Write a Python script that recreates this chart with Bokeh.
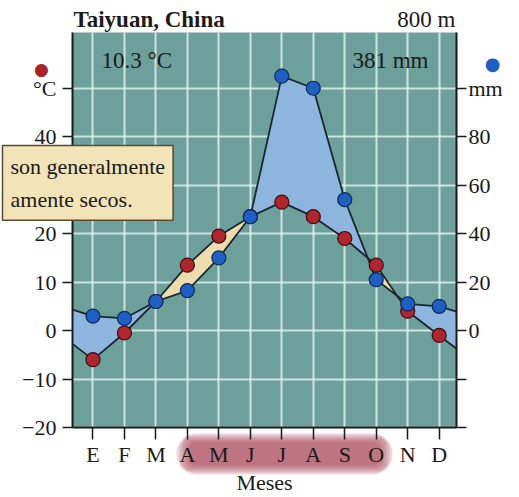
import numpy as np
from bokeh.plotting import figure
from bokeh.models import Range1d, LinearAxis, Label, FixedTicker, Grid, BoxAnnotation
from bokeh.embed import file_html
from bokeh.resources import INLINE

# ---------------- data ----------------
months = ["E", "F", "M", "A", "M", "J", "J", "A", "S", "O", "N", "D"]
temp_c = [-6.0, -0.5, 6.0, 13.5, 19.5, 23.5, 26.5, 23.5, 19.0, 13.5, 4.0, -1.0]
precip_mm = [6, 5, 12, 16.5, 30, 47, 105, 100, 54, 21, 11, 10]

temp_ticks = [-20, -10, 0, 10, 20, 30, 40, 50]
temp_tick_labels = ["\u221220", "\u221210", "0", "10", "20", "30", "40", "\u00b0C"]
precip_ticks = [-40, -20, 0, 20, 40, 60, 80, 100]
precip_tick_labels = ["", "", "0", "20", "40", "60", "80", "mm"]

title_text = "Taiyuan, China"
altitude_text = "800 m"
mean_temp_text = "10.3 \u00b0C"
annual_precip_text = "381 mm"
x_label = "Meses"
note_text = "son generalmente\namente secos."

# ---------------- geometry (plot area inside the canvas) ----------------
W, H = 519, 497
X_MIN, X_MAX = -0.65, 11.55          # month axis extent of the diagram
T_MIN, T_MAX = -20.0, 61.5           # temperature axis extent
PX_L, PX_R, PX_T, PX_B = 72, 456, 32, 427
dx = (X_MAX - X_MIN) / (PX_R - PX_L)
dy = (T_MAX - T_MIN) / (PX_B - PX_T)
def X(px): return X_MIN + (px - PX_L) * dx
def Y(py): return T_MIN + (PX_B - py) * dy

SERIF = "Liberation Serif"
INK = "#1a1a1a"
TEAL = "#6d9f9b"

p = figure(width=W, height=H,
           x_range=Range1d(X(0), X(W)), y_range=Range1d(Y(H), Y(0)),
           output_backend="svg", toolbar_location=None,
           min_border=0, min_border_left=0, min_border_right=0,
           min_border_top=0, min_border_bottom=0,
           background_fill_color="white", border_fill_color="white",
           outline_line_color=None)
p.extra_y_ranges = {"mm": Range1d(2 * Y(H), 2 * Y(0))}   # 20 mm = 10 °C

# diagram background
p.quad(left=[X_MIN], right=[X_MAX], bottom=[T_MIN], top=[T_MAX],
       fill_color=TEAL, line_color=None, level="image")

x = np.arange(len(months))
# wrap-around (Dec before Jan, Jan after Dec), cut at the diagram edges
xe = np.concatenate([[x[0] - 1], x, [x[-1] + 1]])
te = np.array([temp_c[-1]] + temp_c + [temp_c[0]], dtype=float)
pe = np.array([precip_mm[-1]] + precip_mm + [precip_mm[0]], dtype=float)
xl = np.concatenate([[X_MIN], x, [X_MAX]])
tl = np.interp(xl, xe, te)
pl = np.interp(xl, xe, pe)

xs = np.linspace(X_MIN, X_MAX, 2441)
t_i = np.interp(xs, xe, te)
p_i = np.interp(xs, xe, pe) / 2.0

p.varea(x=xs, y1=t_i, y2=np.maximum(t_i, p_i), fill_color="#8db5de", fill_alpha=1.0)
p.varea(x=xs, y1=p_i, y2=np.maximum(p_i, t_i), fill_color="#ecdcae", fill_alpha=1.0)

p.line(xl, tl, line_color="#1c2430", line_width=1.8)
p.line(xl, pl, line_color="#1c2430", line_width=1.8, y_range_name="mm")

p.scatter(x, temp_c, size=14, fill_color="#b0262e", line_color="#3c0c10", line_width=1.2)
p.scatter(x, precip_mm, size=14, fill_color="#1f5fc4", line_color="#0c2a5c", line_width=1.2,
          y_range_name="mm")

# ---------------- axes ----------------
def style_axis(ax, tick_out=10, standoff=4, size="22px"):
    ax.axis_line_width = 2
    ax.axis_line_color = INK
    ax.major_tick_line_color = INK
    ax.major_tick_line_width = 1.5
    ax.major_tick_out = tick_out
    ax.major_tick_in = 0
    ax.minor_tick_line_color = None
    ax.major_label_text_font = SERIF
    ax.major_label_text_font_size = size
    ax.major_label_text_color = INK
    ax.major_label_standoff = standoff

month_ticker = FixedTicker(ticks=[int(i) for i in x])
temp_ticker = FixedTicker(ticks=temp_ticks)

left = p.left[0]
left.ticker = temp_ticker
left.major_label_overrides = dict(zip(temp_ticks, temp_tick_labels))
left.fixed_location = X_MIN
left.bounds = (T_MIN, T_MAX)
style_axis(left, 10, 6)

bottom = p.below[0]
bottom.ticker = month_ticker
bottom.major_label_overrides = {int(i): m for i, m in zip(x, months)}
bottom.fixed_location = T_MIN
bottom.bounds = (X_MIN, X_MAX)
style_axis(bottom, 12, 2)
bottom.axis_label = x_label
bottom.axis_label_text_font = SERIF
bottom.axis_label_text_font_size = "22px"
bottom.axis_label_text_font_style = "normal"
bottom.axis_label_text_color = INK
bottom.axis_label_standoff = 0
bottom.level = "overlay"

right = LinearAxis(y_range_name="mm", ticker=FixedTicker(ticks=precip_ticks),
                   major_label_overrides=dict(zip(precip_ticks, precip_tick_labels)),
                   fixed_location=X_MAX, bounds=(2 * T_MIN, 2 * T_MAX))
style_axis(right, 10, 2)
p.add_layout(right, "right")

# grid
p.xgrid.ticker = month_ticker
p.ygrid.ticker = temp_ticker
has_cross = "cross_bounds" in Grid.properties()
for g, cb in ((p.xgrid, (T_MIN, T_MAX)), (p.ygrid, (X_MIN, X_MAX))):
    g.grid_line_color = "#e6f5f3"
    g.grid_line_width = 2
    g.grid_line_alpha = 0.8
    if has_cross:
        g.cross_bounds = cb
if not has_cross:
    p.xgrid.visible = False
    p.ygrid.visible = False
    p.segment(x0=x, x1=x, y0=T_MIN, y1=T_MAX, line_color="#e6f5f3", line_width=2,
              line_alpha=0.8, level="underlay")
    p.segment(x0=X_MIN, x1=X_MAX, y0=temp_ticks, y1=temp_ticks, line_color="#e6f5f3",
              line_width=2, line_alpha=0.8, level="underlay")

# ---------------- annotations ----------------
def lab(text, px, py, size="23px", align="left", baseline="alphabetic", bold=False,
        color=INK, font=SERIF, **kw):
    p.add_layout(Label(x=X(px), y=Y(py), text=text, text_font=font, text_font_size=size,
                       text_align=align, text_baseline=baseline, text_color=color,
                       text_font_style="bold" if bold else "normal", **kw))

lab(title_text, 73, 19, size="23px", bold=True)
lab(altitude_text, 455, 19, size="23px", align="right")
lab(mean_temp_text, 101, 60)
lab(annual_precip_text, 428, 60, align="right")
lab("\u25cf", 41, 68, size="17px", align="center", baseline="middle",
    color="#a8232b", font="DejaVu Sans")
lab("\u25cf", 492, 63, size="18px", align="center", baseline="middle",
    color="#1f5fc4", font="DejaVu Sans")

# highlighted months band (soft glow behind the month labels)
for k in range(5):
    inset = 3 * k
    p.add_layout(BoxAnnotation(left=X(176 + inset), right=X(392 - inset),
                               top=Y(433 + inset * 0.7), bottom=Y(474 - inset * 0.7),
                               fill_color="#9e3045", fill_alpha=0.2, line_color=None,
                               border_radius=max(20 - 2 * inset, 8), level="annotation"))

# note box, cut off at the left edge of the page
p.add_layout(Label(x=X(2), y=Y(145), text=note_text, text_font=SERIF, text_font_size="22px",
                   text_align="left", text_baseline="top", text_color=INK,
                   text_line_height=1.35,
                   background_fill_color="#f3e3b9", background_fill_alpha=1.0,
                   border_line_color="#5a4a30", border_line_width=1.5, padding=8))

open("out.html", "w").write(file_html(p, INLINE))
